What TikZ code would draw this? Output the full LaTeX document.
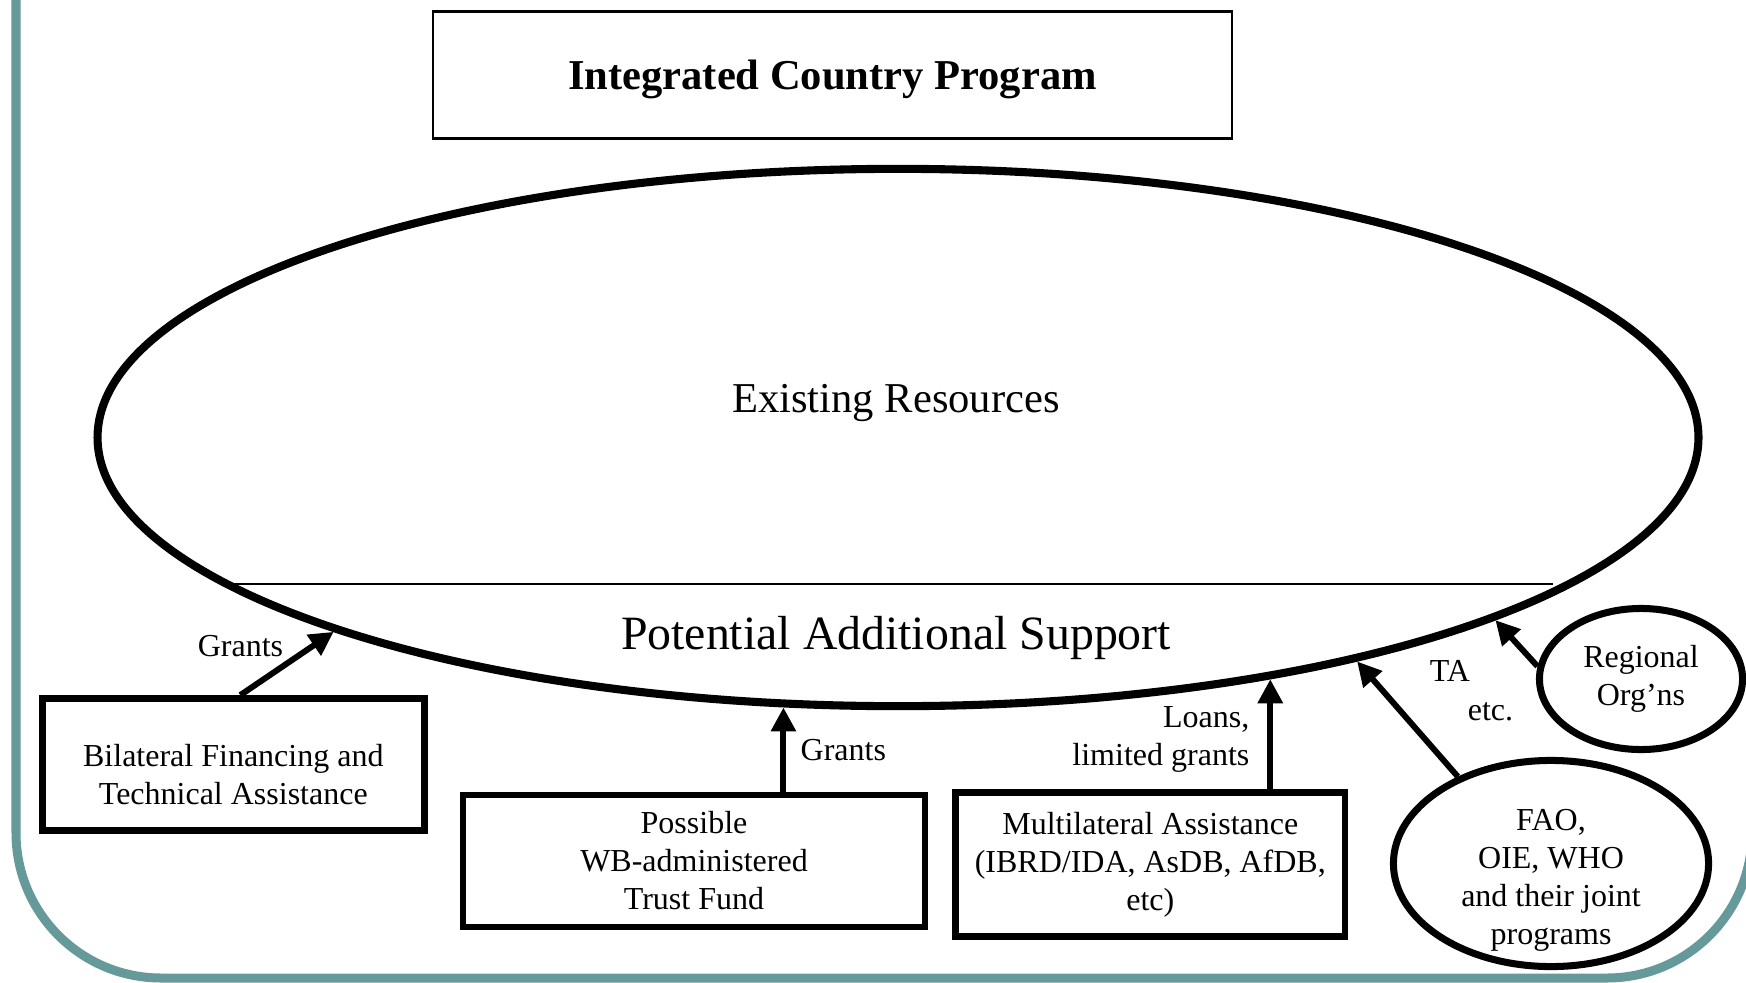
\documentclass[tikz,border=0pt]{standalone}
\usepackage{fontspec}
\setmainfont{Liberation Serif}
\usetikzlibrary{arrows.meta,shapes.geometric}
\definecolor{frameteal}{RGB}{102,153,153}

\begin{document}
\begin{tikzpicture}[x=0.01cm, y=-0.01cm,
  fundbox/.style={draw, line width=1.9pt, align=center, inner sep=0pt, font=\fontsize{9.1}{10.8}\selectfont},
  orgoval/.style={draw, ellipse, line width=2pt, inner sep=0pt, align=center, font=\fontsize{9.1}{10.8}\selectfont},
  lbl/.style={inner sep=0pt, align=center, font=\fontsize{9.1}{10.8}\selectfont},
  flow/.style={line width=1.7pt, -{Triangle[length=0.24cm, width=0.24cm]}}]
\useasboundingbox (0,0) rectangle (1746,982);
\clip (0,0) rectangle (1746,982);
\draw [frameteal, line width=2.56pt, rounded corners=1.45cm] (16,-200) -- (16,978) -- (1752,978) -- (1752,-200);

\node [draw, line width=0.6pt, minimum width=7.99cm, minimum height=1.27cm, text depth=0pt, font=\fontsize{12.1}{14.5}\selectfont\bfseries] (title) at (832.5,75) {Integrated Country Program};

% resources ellipse, split by a thin line
\node [draw, ellipse, line width=2.3pt, inner sep=0pt, minimum width=16cm, minimum height=5.37cm] (res) at (898,437.5) {};
\draw [line width=0.5pt] (233,584) -- (1553,584);
\node [font=\fontsize{12.1}{14.5}\selectfont] (existing) at (896,403.5) {Existing Resources};
\node [font=\fontsize{13.6}{16.3}\selectfont] (potential) at (896,637.5) {Potential Additional Support};

\node [fundbox, minimum width=3.82cm, minimum height=1.32cm] (bilat) at (233.3,764.5) {};
\node [lbl] (bilattext) at (233.3,775) {Bilateral Financing and\\Technical Assistance};
\node [fundbox, minimum width=4.62cm, minimum height=1.32cm] (trust) at (694,861) {Possible\\WB-administered\\Trust Fund};
\node [fundbox, minimum width=3.89cm, minimum height=1.44cm] (multi) at (1150.3,864.6) {Multilateral Assistance\\(IBRD/IDA, AsDB, AfDB,\\etc)};
\node [orgoval, minimum width=3.15cm, minimum height=2.06cm] (fao) at (1551,863.5) {};
\node [lbl] (faotext) at (1551,880) {FAO,\\OIE, WHO\\and their joint\\programs};
\node [orgoval, minimum width=2.03cm, minimum height=1.41cm] (reg) at (1641,679) {Regional\\Org’ns};

\draw [flow] ([xshift=0.07cm]bilat.north) -- (res.199.8);
\draw [flow] (res.247 |- trust.north) -- (res.247);
\draw [flow] (res.327 |- multi.north) -- (res.327);
\draw [flow] (fao.137) -- (res.334);
\draw [flow] (reg.173) -- (res.343);

\node [lbl] (grantsa) at (240.5,646) {Grants};
\node [lbl, anchor=west] (grantsb) at (800,750) {Grants};
\node [lbl, align=right, anchor=east] (loans) at (1250,739) {Loans,\\limited grants};
\node [lbl] (ta) at (1450,671) {TA};
\node [lbl] (etc) at (1490.5,712) {etc.};
\end{tikzpicture}
\end{document}
